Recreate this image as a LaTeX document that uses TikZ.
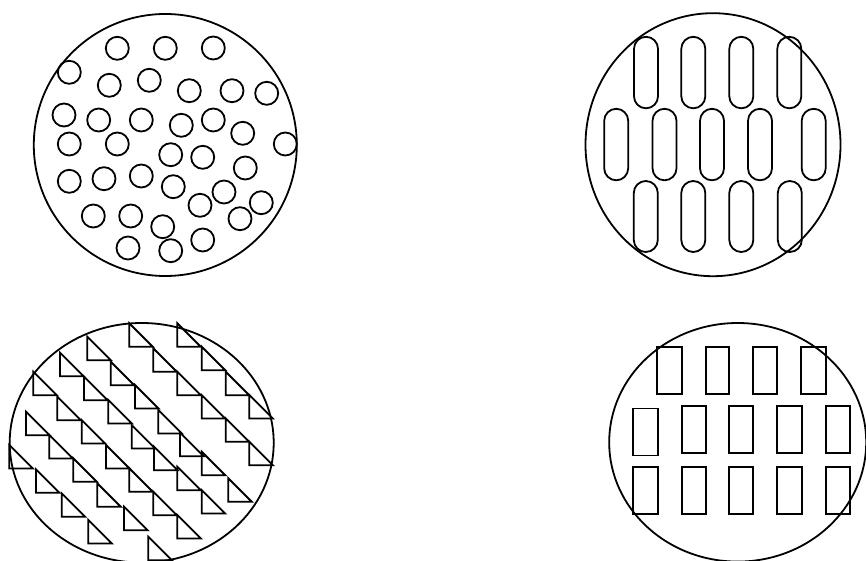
\documentclass[tikz,border=0pt]{standalone}
\begin{document}
\begin{tikzpicture}[x=1pt,y=-1pt,line width=1.8pt,line join=miter,
  outline/.style={draw=black},
  dot/.style={draw=black}]
\useasboundingbox (0,0) rectangle (866,561);
\clip (0,0) rectangle (866,561);
% ---------- top-left: circles ----------
\draw[outline] (165.3,145) ellipse [x radius=131.5, y radius=131];
\foreach \x/\y in {117.3/48.3,165.3/48.3,213.3/48,69.3/72.3,109.3/85.3,149.3/80.3,189.3/90.7,232/90.7,266.7/93.3,
  64/115,98.7/120,141.3/120,181.3/125.3,213.3/120,242.7/133.3,69.3/144,117.3/144,285.3/144,170.7/154.7,202.7/157.3,
  245.3/168,69.3/181.3,104/178.7,141.3/176,173.3/186.7,224/192,200/205.3,261.3/202.7,93.3/216,130.7/216,
  162.7/226.7,240/218.7,128/248,170.7/250.7,202.7/240}
  \draw[dot] (\x,\y) circle [radius=11.5];
% ---------- top-right: pills ----------
\draw[outline] (713,144.7) ellipse [x radius=127.5, y radius=131.5];
\foreach \x in {646,693.3,741.3,789.3}
  \draw[rounded corners=12pt] (\x-12,36.8) rectangle (\x+12,108.3);
\foreach \x in {616.2,664.5,712,760,813.7}
  \draw[rounded corners=12pt] (\x-12,108.8) rectangle (\x+12,180.3);
\foreach \x in {645.8,693.3,741.3,789.8}
  \draw[rounded corners=12pt] (\x-12,181) rectangle (\x+12,252);
% ---------- bottom-left: triangles ----------
\draw[outline] (141.7,442.8) ellipse [x radius=132, y radius=119.8];
\foreach \x/\y in {177.3/323.3,201.7/346.7,225.7/371.7,249.3/395,
  129.3/323.3,153.3/348.3,177.3/371.7,201.7/395,225.7/418.3,249.3/441.7,
  87.3/336.7,110.7/361.7,135/385,158.3/410,180/432.7,201.7/451.7,228.3/478.3,
  60/352.7,84/376.7,108.3/400,131.7/425,154/446.7,177.3/466.7,201.7/490,
  33.3/371.7,57.3/396.7,81.7/420,106/445,129.3/468.3,153.3/491.7,177.3/515,
  26/411.7,49.3/435,73.3/458.3,97.3/483.3,124/506.7,148.3/536.7,
  9.3/445,36/469.3,61.7/493.3,88.3/520}
  \draw (\x,\y) -- (\x,\y+23.5) -- (\x+23.5,\y+23.5) -- cycle;
% ---------- bottom-right: rectangles ----------
\draw[outline] (737.7,442.3) ellipse [x radius=128.5, y radius=119.3];
\foreach \a/\b in {657.3/681.7,705.7/729.3,753.3/777.3,801.3/825.7}
  \draw (\a,347) rectangle (\b,394);
\draw (633.3,408.5) rectangle (657.7,455.5);
\foreach \a/\b in {681.7/705.7,729.3/753.3,777.3/801.7,825.7/850}
  \draw (\a,406) rectangle (\b,453);
\foreach \a/\b in {633.3/657.7,681.7/705.7,729.3/753.3,777.3/801.7,825.7/850}
  \draw (\a,467) rectangle (\b,514);
\end{tikzpicture}
\end{document}
